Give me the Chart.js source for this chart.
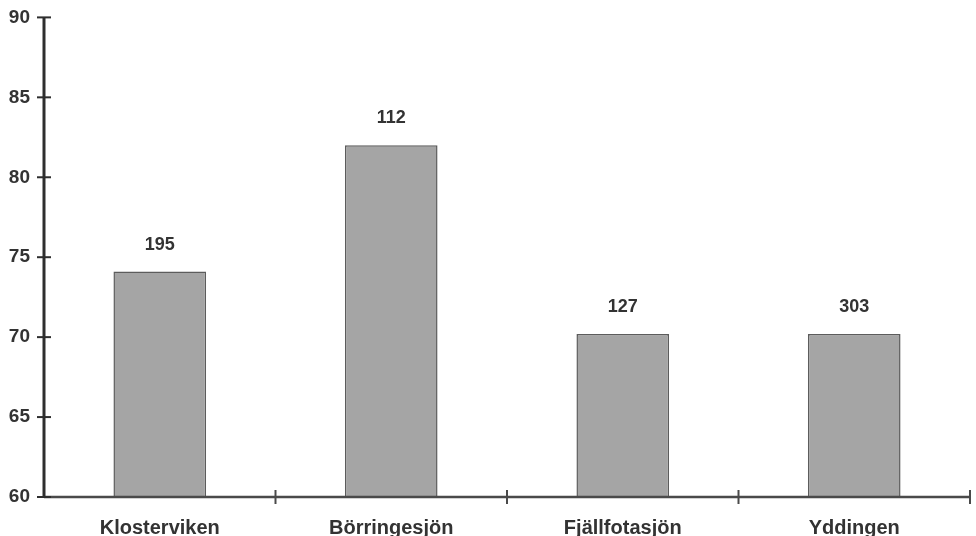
<!DOCTYPE html>
<html>
<head>
<meta charset="utf-8">
<script src="https://cdn.jsdelivr.net/npm/chart.js@4/dist/chart.umd.min.js"></script>
<style>
  html, body { margin: 0; padding: 0; background: #fff; }
  #wrap { width: 976px; height: 536px; }
</style>
</head>
<body>
<div id="wrap"><canvas id="c" width="976" height="536"></canvas></div>
<script>
// Lakes and their measured values
const lakes = ['Klosterviken', 'Börringesjön', 'Fjällfotasjön', 'Yddingen'];
const values = [74.1, 82, 70.2, 70.2];
// Sample counts printed above each bar
const counts = ['195', '112', '127', '303'];
const yTicks = [60, 65, 70, 75, 80, 85, 90];

const INK = '#333333';
const FONT = '"Liberation Sans", Arial, sans-serif';

// Draws the axis lines with crossing tick marks and the count labels
const axesAndCounts = {
  id: 'axesAndCounts',
  afterDatasetsDraw(chart) {
    const ctx = chart.ctx;
    const xs = chart.scales.x, ys = chart.scales.y;
    const area = chart.chartArea;
    const y0 = ys.getPixelForValue(60);
    const step = xs.getPixelForValue(1) - xs.getPixelForValue(0);
    ctx.save();
    // x axis
    ctx.strokeStyle = '#4a4a4a';
    ctx.lineWidth = 2.5;
    ctx.beginPath();
    ctx.moveTo(area.left, y0);
    ctx.lineTo(area.right, y0);
    ctx.stroke();
    // category boundary ticks
    ctx.lineWidth = 2;
    for (let i = 0; i < lakes.length; i++) {
      const px = xs.getPixelForValue(i) + step / 2;
      ctx.beginPath();
      ctx.moveTo(px, y0 - 7);
      ctx.lineTo(px, y0 + 7);
      ctx.stroke();
    }
    // y axis
    ctx.strokeStyle = '#2e2e2e';
    ctx.lineWidth = 3;
    ctx.beginPath();
    ctx.moveTo(area.left, ys.getPixelForValue(90));
    ctx.lineTo(area.left, y0);
    ctx.stroke();
    ctx.lineWidth = 2;
    yTicks.forEach(v => {
      const py = ys.getPixelForValue(v);
      ctx.beginPath();
      ctx.moveTo(area.left - 7, py);
      ctx.lineTo(area.left + 7, py);
      ctx.stroke();
    });
    // counts above bars
    ctx.fillStyle = INK;
    ctx.font = 'bold 18px ' + FONT;
    ctx.textAlign = 'center';
    ctx.textBaseline = 'bottom';
    const meta = chart.getDatasetMeta(0);
    meta.data.forEach((bar, i) => {
      ctx.fillText(counts[i], bar.x, bar.y - 18);
    });
    ctx.restore();
  }
};

new Chart(document.getElementById('c'), {
  type: 'bar',
  data: {
    labels: lakes,
    datasets: [{
      data: values,
      backgroundColor: '#a5a5a5',
      borderColor: '#5c5c5c',
      borderWidth: 1.5,
      categoryPercentage: 1,
      barPercentage: 0.4
    }]
  },
  options: {
    responsive: false,
    animation: false,
    layout: { padding: { top: 15, right: 6, left: 0, bottom: 0 } },
    plugins: { legend: { display: false }, tooltip: { enabled: false } },
    scales: {
      x: {
        offset: true,
        grid: { display: false },
        border: { display: false },
        ticks: { color: INK, font: { family: FONT, size: 20, weight: 'bold' }, padding: 11, maxRotation: 0 },
        afterFit(s) { s.height = 39; }
      },
      y: {
        min: 60, max: 90,
        afterBuildTicks(s) { s.ticks = yTicks.map(v => ({ value: v })); },
        grid: { display: false },
        border: { display: false },
        ticks: { color: INK, font: { family: FONT, size: 19, weight: 'bold' }, padding: 6 },
        afterFit(s) { s.width = 44; }
      }
    }
  },
  plugins: [axesAndCounts]
});
</script>
</body>
</html>
